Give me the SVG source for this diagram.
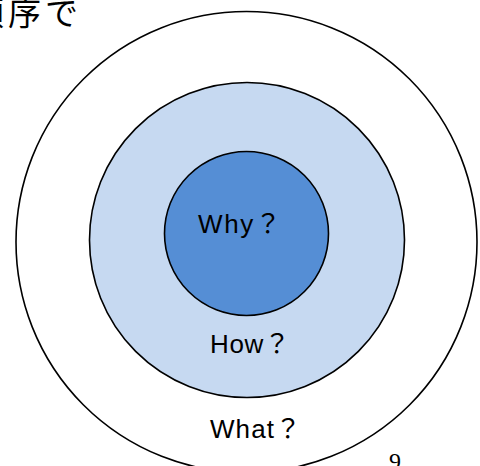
<svg xmlns="http://www.w3.org/2000/svg" width="480" height="466" viewBox="0 0 480 466">
<style>
.ring{stroke:#000;stroke-width:1.6}
.lbl{font-family:"Liberation Sans","Noto Sans CJK JP",sans-serif;font-size:26px;fill:#000}
</style>
<rect width="480" height="466" fill="#fff"/>
<g id="what">
<circle class="ring" cx="246.5" cy="242" r="230.5" fill="#fff"/>
</g>
<g id="how">
<circle class="ring" cx="247" cy="240" r="157.5" fill="#C6D9F1"/>
</g>
<g id="why">
<circle class="ring" cx="246.5" cy="233.5" r="82" fill="#558ED5"/>
</g>
<g id="labels">
<text class="lbl" x="198" y="233" textLength="83">Why？</text>
<text class="lbl" x="210" y="353" textLength="80">How？</text>
<text class="lbl" x="210" y="438" textLength="91">What？</text>
</g>
<g id="connectors"></g>
<text x="-29" y="25" font-family="'Noto Sans CJK JP',sans-serif" font-size="33" letter-spacing="4" fill="#000">順序で</text>
<text x="389" y="469" font-family="'Liberation Serif',serif" font-size="24" fill="#000">9</text>
</svg>
